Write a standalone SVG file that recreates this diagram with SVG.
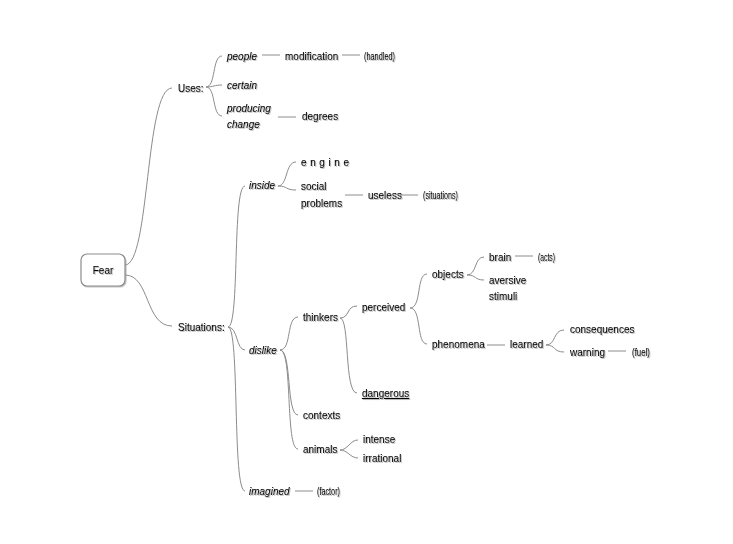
<svg xmlns="http://www.w3.org/2000/svg" width="733" height="544" viewBox="0 0 733 544">
<defs>
<filter id="sh" x="-10%" y="-30%" width="130%" height="180%"><feDropShadow dx="1" dy="1" stdDeviation="0.7" flood-color="#999" flood-opacity="0.6"/></filter>
</defs>
<style>
text{font-family:"Liberation Sans",Arial,sans-serif;font-size:10px;fill:#000;stroke:#000;stroke-width:0.15;filter:url(#sh)}
.i{font-style:italic}
.c{font-size:11px}
#edges path{fill:none;stroke:#8c8c8c;stroke-width:1}
</style>
<rect width="733" height="544" fill="#fff"/>
<g id="edges">
<path d="M125 265 C150 265,145 88,172 88"/>
<path d="M125 275 C150 275,145 326,172 326"/>
<path d="M206 87 C216 87,212 56,222 56"/>
<path d="M206 87 C214 87,214 85,222 85"/>
<path d="M206 87 C216 87,212 116,222 116"/>
<path d="M262 55 H280"/>
<path d="M342 55 H360"/>
<path d="M278 117 H296"/>
<path d="M228 327 C240 327,232 186,245 186"/>
<path d="M228 327 C238 327,236 350,245 350"/>
<path d="M228 327 C240 327,232 491,245 491"/>
<path d="M278 186 C288 186,285 162,296 162"/>
<path d="M278 186 C288 186,285 190,296 190"/>
<path d="M345 195 H363"/>
<path d="M400 195 H418"/>
<path d="M280 350 C292 350,286 317,298 317"/>
<path d="M280 350 C292 350,286 415,298 415"/>
<path d="M280 350 C293 350,285 449,298 449"/>
<path d="M340 318 C350 318,346 306,357 306"/>
<path d="M340 318 C350 318,344 393,357 393"/>
<path d="M410 308 C422 308,416 274,427 274"/>
<path d="M410 308 C422 308,416 344,427 344"/>
<path d="M467 275 C477 275,474 257,484 257"/>
<path d="M467 275 C477 275,474 280,484 280"/>
<path d="M515 256 H533"/>
<path d="M487 345 H505"/>
<path d="M546 345 C556 345,553 330,564 330"/>
<path d="M546 345 C556 345,553 352,564 352"/>
<path d="M608 351 H626"/>
<path d="M340 450 C348 450,350 440,358 440"/>
<path d="M340 450 C348 450,350 458,358 458"/>
<path d="M295 491 H313"/>
</g>
<g id="n-fear"><rect x="81" y="254" width="44" height="32" rx="6" fill="#fff" stroke="#8c8c8c" stroke-width="1.2" filter="url(#sh)"/><text x="103" y="274" text-anchor="middle" font-size="11">Fear</text></g>
<g id="n-uses"><text x="178" y="92">Uses:</text></g>
<g id="n-people"><text class="i" x="227" y="60">people</text></g>
<g id="n-modification"><text x="285" y="60">modification</text></g>
<g id="n-handled"><text class="c" x="364" y="60" textLength="31" lengthAdjust="spacingAndGlyphs">(handled)</text></g>
<g id="n-certain"><text class="i" x="227" y="89">certain</text></g>
<g id="n-producing"><text class="i" x="227" y="112">producing</text><text class="i" x="227" y="128">change</text></g>
<g id="n-degrees"><text x="302" y="120">degrees</text></g>
<g id="n-situations"><text x="178" y="331">Situations:</text></g>
<g id="n-inside"><text class="i" x="249" y="189">inside</text></g>
<g id="n-engine"><text x="301" y="166" letter-spacing="3.6">engine</text></g>
<g id="n-social"><text x="301" y="190">social</text><text x="301" y="207">problems</text></g>
<g id="n-useless"><text x="368" y="199">useless</text></g>
<g id="n-sit2"><text class="c" x="423" y="199" textLength="35" lengthAdjust="spacingAndGlyphs">(situations)</text></g>
<g id="n-dislike"><text class="i" x="249" y="354">dislike</text></g>
<g id="n-thinkers"><text x="303" y="321">thinkers</text></g>
<g id="n-perceived"><text x="362" y="311">perceived</text></g>
<g id="n-objects"><text x="432" y="278">objects</text></g>
<g id="n-brain"><text x="489" y="261">brain</text></g>
<g id="n-acts"><text class="c" x="538" y="261" textLength="17" lengthAdjust="spacingAndGlyphs">(acts)</text></g>
<g id="n-aversive"><text x="489" y="284">aversive</text><text x="489" y="300">stimuli</text></g>
<g id="n-phenomena"><text x="432" y="348">phenomena</text></g>
<g id="n-learned"><text x="510" y="348">learned</text></g>
<g id="n-consequences"><text x="570" y="333">consequences</text></g>
<g id="n-warning"><text x="570" y="356">warning</text></g>
<g id="n-fuel"><text class="c" x="632" y="356" textLength="18" lengthAdjust="spacingAndGlyphs">(fuel)</text></g>
<g id="n-dangerous"><text x="362" y="397" text-decoration="underline">dangerous</text></g>
<g id="n-contexts"><text x="303" y="419">contexts</text></g>
<g id="n-animals"><text x="303" y="453">animals</text></g>
<g id="n-intense"><text x="363" y="443">intense</text></g>
<g id="n-irrational"><text x="363" y="462">irrational</text></g>
<g id="n-imagined"><text class="i" x="249" y="495">imagined</text></g>
<g id="n-factor"><text class="c" x="317" y="495" textLength="23" lengthAdjust="spacingAndGlyphs">(factor)</text></g>
</svg>
